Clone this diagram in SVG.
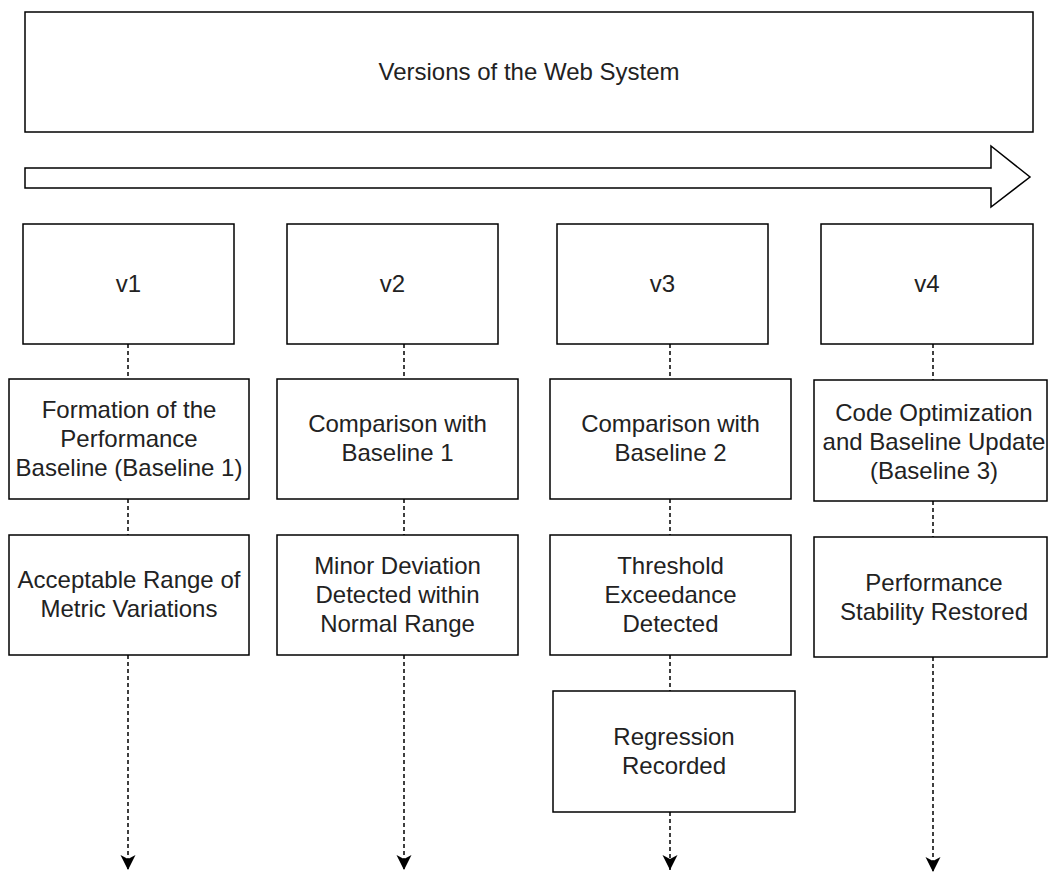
<svg xmlns="http://www.w3.org/2000/svg" width="1048" height="873" viewBox="0 0 1048 873">
<style>
.box{fill:#ffffff;stroke:#000000;stroke-width:1.5}
.lbl{font-family:"Liberation Sans",Arial,sans-serif;font-size:24px;fill:#222222;text-anchor:middle}
.dash{fill:none;stroke:#000000;stroke-width:1.5;stroke-dasharray:4 3}
</style>
<defs>
<marker id="arr" markerUnits="userSpaceOnUse" viewBox="-16 -8 17 16" markerWidth="17" markerHeight="16" refX="0" refY="0" orient="auto">
<path d="M0,0 L-15,-7.5 L-11,0 L-15,7.5 Z" fill="#000000"/>
</marker>
</defs>
<rect width="1048" height="873" fill="#ffffff"/>
<g id="title">
<rect class="box" x="25" y="12" width="1008" height="120"/>
<text class="lbl" x="529" y="80">Versions of the Web System</text>
</g>
<g id="timeline">
<path class="box" d="M25,168 L991,168 L991,146 L1030,177 L991,207 L991,188 L25,188 Z"/>
</g>
<g id="connectors">
<line class="dash" x1="128" y1="344" x2="128" y2="379"/>
<line class="dash" x1="128" y1="499" x2="128" y2="535"/>
<line class="dash" x1="128" y1="655" x2="128" y2="870" marker-end="url(#arr)"/>
<line class="dash" x1="404" y1="344" x2="404" y2="379"/>
<line class="dash" x1="404" y1="499" x2="404" y2="535"/>
<line class="dash" x1="404" y1="655" x2="404" y2="870" marker-end="url(#arr)"/>
<line class="dash" x1="670" y1="344" x2="670" y2="379"/>
<line class="dash" x1="670" y1="499" x2="670" y2="535"/>
<line class="dash" x1="670" y1="655" x2="670" y2="691"/>
<line class="dash" x1="670" y1="812" x2="670" y2="870" marker-end="url(#arr)"/>
<line class="dash" x1="933" y1="344" x2="933" y2="380"/>
<line class="dash" x1="933" y1="501" x2="933" y2="537"/>
<line class="dash" x1="933" y1="657" x2="933" y2="872" marker-end="url(#arr)"/>
</g>
<g id="v1">
<rect class="box" x="23" y="224" width="211" height="120"/>
<text class="lbl" x="128.5" y="292">v1</text>
</g>
<g id="v2">
<rect class="box" x="287" y="224" width="211" height="120"/>
<text class="lbl" x="392.5" y="292">v2</text>
</g>
<g id="v3">
<rect class="box" x="557" y="224" width="211" height="120"/>
<text class="lbl" x="662.5" y="292">v3</text>
</g>
<g id="v4">
<rect class="box" x="821" y="224" width="212" height="120"/>
<text class="lbl" x="927" y="292">v4</text>
</g>
<g id="v1-baseline">
<rect class="box" x="9" y="379" width="240" height="120"/>
<text class="lbl" x="129" y="418">Formation of the<tspan x="129" y="447">Performance</tspan><tspan x="129" y="476">Baseline (Baseline 1)</tspan></text>
</g>
<g id="v1-range">
<rect class="box" x="9" y="535" width="240" height="120"/>
<text class="lbl" x="129" y="587.5">Acceptable Range of<tspan x="129" y="616.5">Metric Variations</tspan></text>
</g>
<g id="v2-compare">
<rect class="box" x="277" y="379" width="241" height="120"/>
<text class="lbl" x="397.5" y="432">Comparison with<tspan x="397.5" y="461">Baseline 1</tspan></text>
</g>
<g id="v2-minor">
<rect class="box" x="277" y="535" width="241" height="120"/>
<text class="lbl" x="397.5" y="574">Minor Deviation<tspan x="397.5" y="603">Detected within</tspan><tspan x="397.5" y="632">Normal Range</tspan></text>
</g>
<g id="v3-compare">
<rect class="box" x="550" y="379" width="241" height="120"/>
<text class="lbl" x="670.5" y="432">Comparison with<tspan x="670.5" y="461">Baseline 2</tspan></text>
</g>
<g id="v3-threshold">
<rect class="box" x="550" y="535" width="241" height="120"/>
<text class="lbl" x="670.5" y="574">Threshold<tspan x="670.5" y="603">Exceedance</tspan><tspan x="670.5" y="632">Detected</tspan></text>
</g>
<g id="v3-regression">
<rect class="box" x="553" y="691" width="242" height="121"/>
<text class="lbl" x="674" y="745">Regression<tspan x="674" y="774">Recorded</tspan></text>
</g>
<g id="v4-optimize">
<rect class="box" x="814" y="380" width="233" height="121"/>
<text class="lbl" x="934" y="420.5">Code Optimization<tspan x="934" y="449.5">and Baseline Update</tspan><tspan x="934" y="478.5">(Baseline 3)</tspan></text>
</g>
<g id="v4-stable">
<rect class="box" x="814" y="537" width="233" height="120"/>
<text class="lbl" x="934" y="590.5">Performance<tspan x="934" y="619.5">Stability Restored</tspan></text>
</g>
</svg>
